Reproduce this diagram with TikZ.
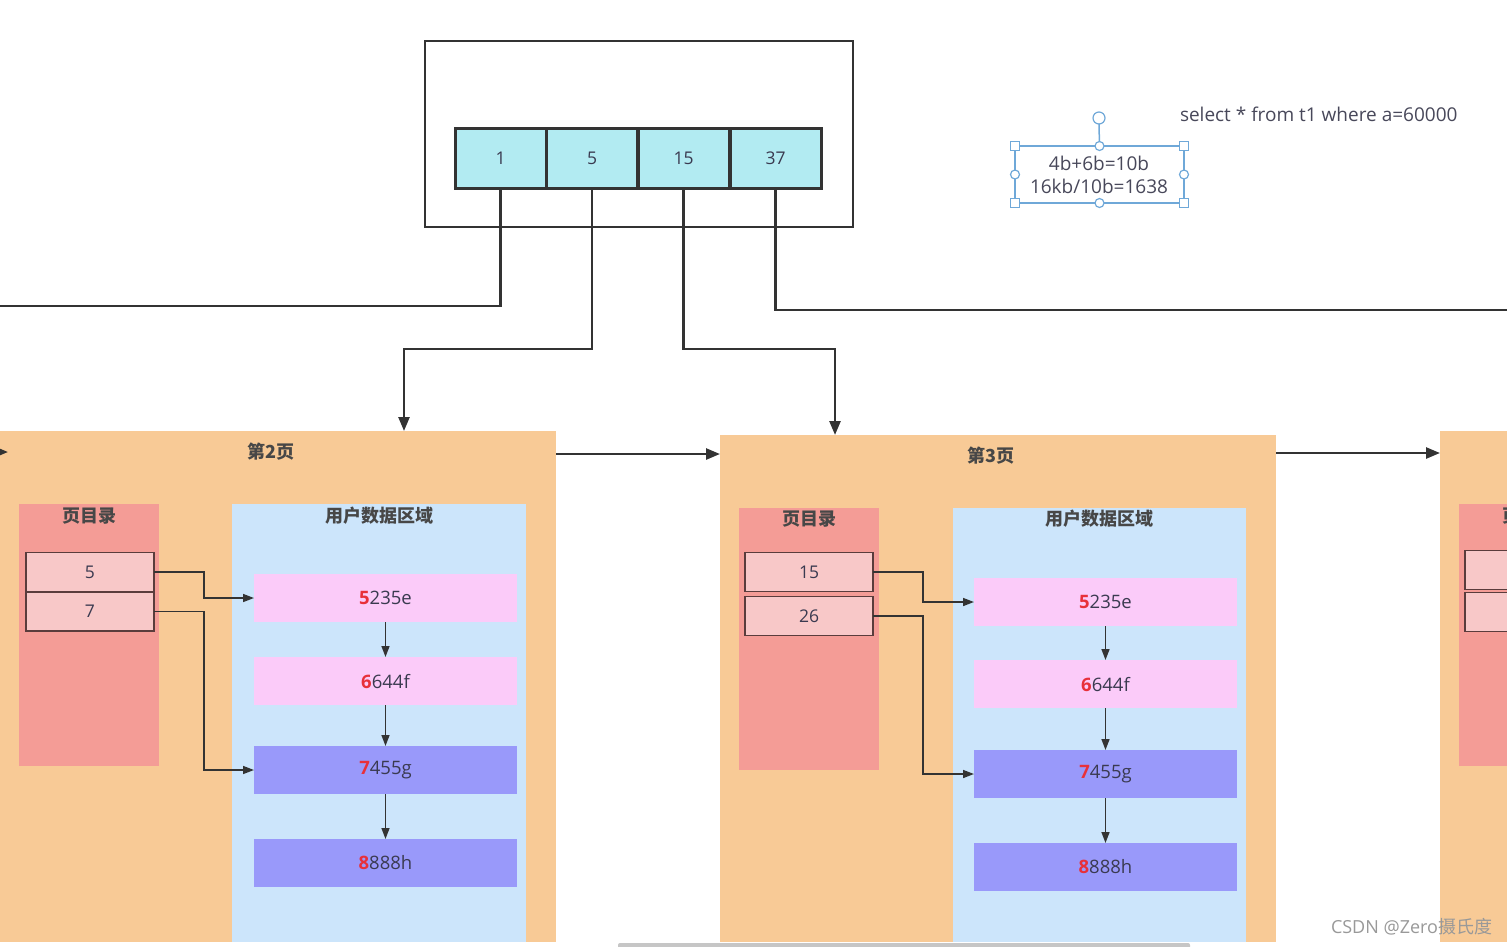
\documentclass[tikz,border=0pt]{standalone}
\usepackage{fontspec}
\setmainfont{Open Sans}
\newfontfamily\cjk{Noto Sans CJK SC}
\usetikzlibrary{arrows.meta,calc}
\definecolor{pageor}{HTML}{F8CA96}
\definecolor{dirred}{HTML}{F49C96}
\definecolor{entpk}{HTML}{F8C8C8}
\definecolor{areabl}{HTML}{CCE5FB}
\definecolor{recpk}{HTML}{FBCBF9}
\definecolor{recpu}{HTML}{9999FA}
\definecolor{cellcy}{HTML}{B2EBF2}
\definecolor{linedk}{HTML}{333333}
\definecolor{entln}{HTML}{5A3C3C}
\definecolor{numred}{HTML}{E8303A}
\definecolor{txtdk}{HTML}{3A3A50}
\definecolor{selbl}{HTML}{6FA8D8}
\begin{document}
\begin{tikzpicture}[x=1pt,y=-1pt,
  font=\fontsize{17.5}{20}\selectfont,
  every node/.style={inner sep=0pt, outer sep=0pt},
  cell/.style={draw=linedk, line width=3pt, fill=cellcy, minimum width=91pt, minimum height=60pt, text=txtdk},
  pagebox/.style={fill=pageor, minimum width=556pt, anchor=north west},
  dirbox/.style={fill=dirred, minimum width=140pt, minimum height=262pt, anchor=north west},
  areabox/.style={fill=areabl, anchor=north west},
  entry/.style={draw=entln, line width=1.5pt, fill=entpk, minimum width=128pt, minimum height=39pt, text=txtdk},
  recA/.style={fill=recpk, minimum width=263pt, minimum height=48pt, text=txtdk, font=\fontsize{18.5}{20}\selectfont},
  recB/.style={fill=recpu, minimum width=263pt, minimum height=48pt, text=txtdk, font=\fontsize{18.5}{20}\selectfont},
  title/.style={font=\fontsize{18}{20}\selectfont\cjk\bfseries, text=linedk!90},
  conn/.style={draw=linedk, line width=2.5pt},
  bigarrow/.style={conn, -{Triangle[length=14pt,width=11pt]}},
  smallarrow/.style={draw=linedk, line width=1.5pt, -{Triangle[length=11pt,width=8pt]}},
  hsq/.style={draw=selbl, fill=white, line width=1.2pt, minimum size=9pt},
  hci/.style={draw=selbl, fill=white, line width=1.2pt, circle, minimum size=9pt}
]
\useasboundingbox (0,0) rectangle (1507,946);
\clip (0,0) rectangle (1507,946);
\fill[white] (0,0) rectangle (1507,946);

% ---------- top index page ----------
\node[draw=linedk, line width=2.5pt, minimum width=428pt, minimum height=186pt, anchor=north west] (top) at (425,41) {};
\node[cell] (c1) at (500.5,158) {1};
\node[cell] (c2) at (592,158) {5};
\node[cell] (c3) at (683.5,158) {15};
\node[cell] (c4) at (775.5,158) {37};

% ---------- page 2 ----------
\node[pagebox, minimum height=511pt] (p2) at (0,431) {};
\node[title] (p2t) at (271,452) {第2页};
\node[dirbox] (d2) at (19,504) {};
\node[title] (d2t) at (89,516) {页目录};
\node[entry] (e21) at (90,572) {5};
\node[entry] (e22) at (90,611.5) {7};
\node[areabox, minimum width=294pt, minimum height=438pt] (a2) at (232,504) {};
\node[title] (a2t) at (379,516) {用户数据区域};
\node[recA] (r21) at (385.5,598) {\textcolor{numred}{\bfseries 5}235e};
\node[recA] (r22) at (385.5,681) {\textcolor{numred}{\bfseries 6}644f};
\node[recB] (r23) at (385.5,770) {\textcolor{numred}{\bfseries 7}455g};
\node[recB] (r24) at (385.5,863) {\textcolor{numred}{\bfseries 8}888h};

% ---------- page 3 ----------
\node[pagebox, minimum height=507pt] (p3) at (720,435) {};
\node[title] (p3t) at (991,456) {第3页};
\node[dirbox] (d3) at (739,508) {};
\node[title] (d3t) at (809,519) {页目录};
\node[entry] (e31) at (809,572) {15};
\node[entry] (e32) at (809,616) {26};
\node[areabox, minimum width=293pt, minimum height=434pt] (a3) at (953,508) {};
\node[title] (a3t) at (1099,519) {用户数据区域};
\node[recA] (r31) at (1105.5,602) {\textcolor{numred}{\bfseries 5}235e};
\node[recA] (r32) at (1105.5,684) {\textcolor{numred}{\bfseries 6}644f};
\node[recB] (r33) at (1105.5,774) {\textcolor{numred}{\bfseries 7}455g};
\node[recB] (r34) at (1105.5,867) {\textcolor{numred}{\bfseries 8}888h};

% ---------- page 4 (partly visible) ----------
\node[pagebox, minimum height=511pt] (p4) at (1440,431) {};
\node[dirbox] (d4) at (1459,504) {};
\node[title] (d4t) at (1529,516) {页目录};
\node[entry] (e41) at (1529,570) {};
\node[entry] (e42) at (1529,612) {};

% ---------- connectors from top cells ----------
\coordinate (lout) at (-10,306);
\coordinate (rout) at (1520,310);
\coordinate (k2) at (404,349);
\coordinate (k3) at (835,349);
\draw[conn] (c1.south) |- (lout);
\draw[conn] (c4.south) |- (rout);
\draw[bigarrow] (c2.south) |- (k2) -- (k2 |- p2.north);
\draw[bigarrow] (c3.south) |- (k3) -- (k3 |- p3.north);

% ---------- page links ----------
\coordinate (lin) at (-20,452);
\draw[bigarrow, shorten >=-8pt] (lin) -- (lin -| p2.west);
\draw[bigarrow] (p2.east |- 0,454) -- (p3.west |- 0,454);
\draw[bigarrow] (p3.east |- 0,453) -- (p4.west |- 0,453);

% ---------- inside page 2 ----------
\draw[smallarrow] (e21.east) -- ++(50,0) |- (r21.west);
\draw[smallarrow] (e22.east) -- ++(50,0) |- (r23.west);
\draw[smallarrow] (r21.south) -- (r22.north);
\draw[smallarrow] (r22.south) -- (r23.north);
\draw[smallarrow] (r23.south) -- (r24.north);

% ---------- inside page 3 ----------
\draw[smallarrow] (e31.east) -- ++(50,0) |- (r31.west);
\draw[smallarrow] (e32.east) -- ++(50,0) |- (r33.west);
\draw[smallarrow] (r31.south) -- (r32.north);
\draw[smallarrow] (r32.south) -- (r33.north);
\draw[smallarrow] (r33.south) -- (r34.north);

% ---------- selected text box ----------
\node[draw=selbl, line width=1.2pt, minimum width=169pt, minimum height=57pt, anchor=north west] (sel) at (1015,146) {};
\node[text=txtdk!80!gray, align=center, font=\fontsize{19}{23}\selectfont] (calc) at (1099,174.5) {4b+6b=10b\\16kb/10b=1638};
\node[hci, minimum size=12pt] (rot) at (1099,118) {};
\draw[selbl, line width=1.5pt] (rot.south) -- (sel.north);
\node[hsq] (h1) at (sel.north west) {};
\node[hsq] (h2) at (sel.north east) {};
\node[hsq] (h3) at (sel.south west) {};
\node[hsq] (h4) at (sel.south east) {};
\node[hci] (h5) at (sel.north) {};
\node[hci] (h6) at (sel.south) {};
\node[hci] (h7) at (sel.west) {};
\node[hci] (h8) at (sel.east) {};

\node[text=txtdk!80!gray, anchor=west, font=\fontsize{19}{22}\selectfont] (sql) at (1180,114) {select * from t1 where a=60000};

% ---------- bottom bar & watermark ----------
\fill[gray!45, rounded corners=2pt] (618,943) rectangle (1190,950);
\node[text=gray!80, anchor=east, font=\fontsize{18}{20}\selectfont] (wm) at (1492,927) {CSDN @Zero{\cjk 摄氏度}};
\end{tikzpicture}
\end{document}
